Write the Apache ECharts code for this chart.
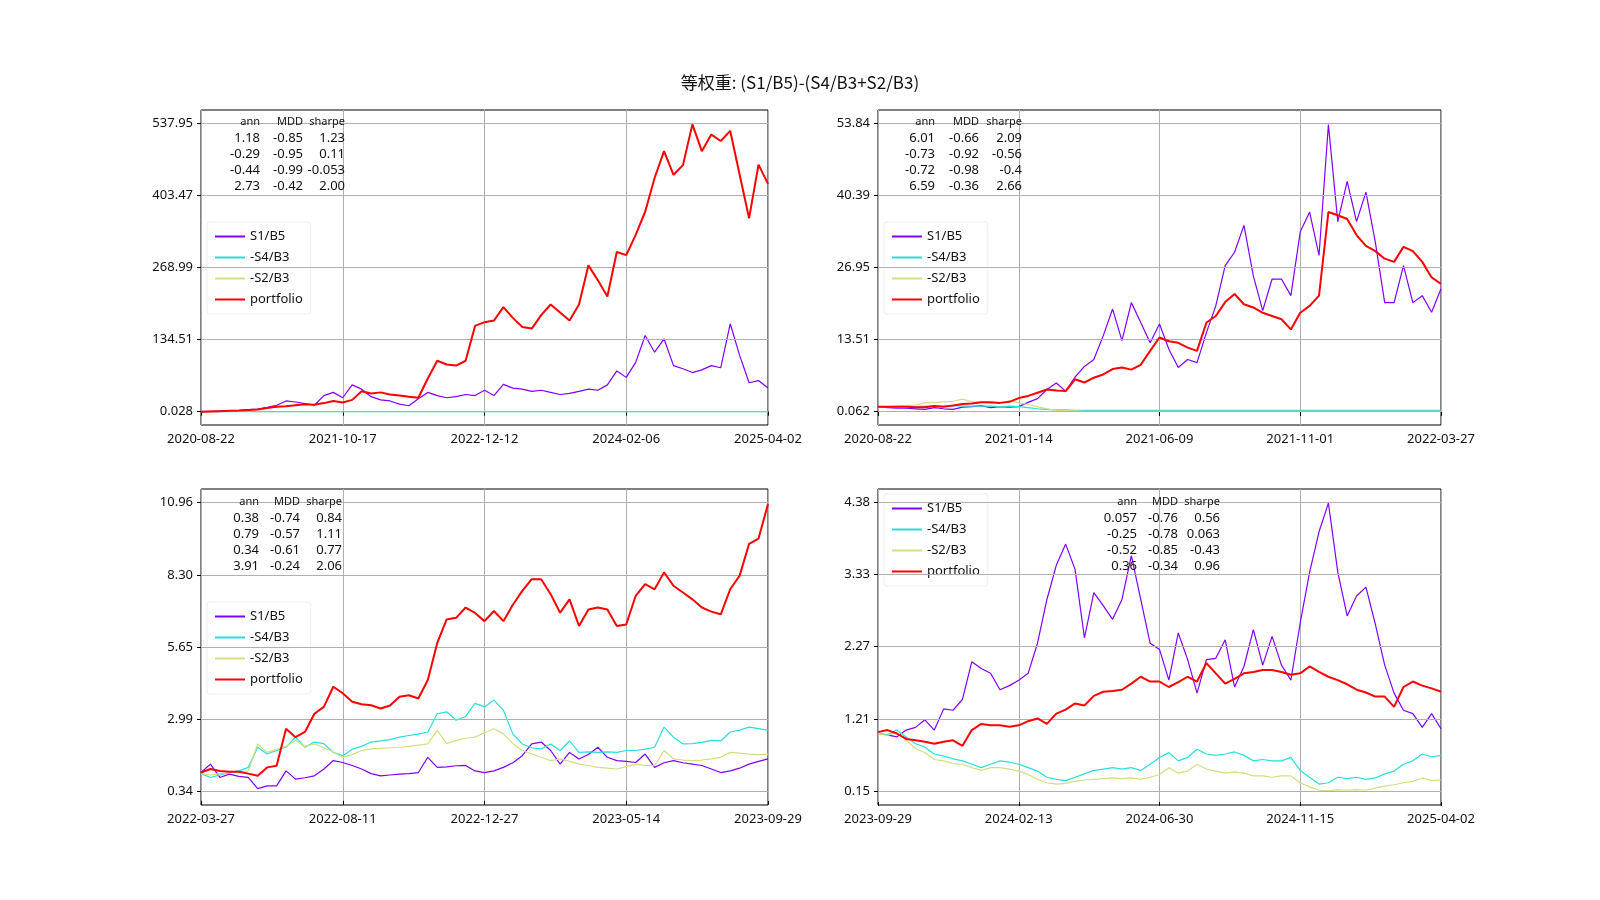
<!DOCTYPE html>
<html>
<head>
<meta charset="utf-8">
<script src="https://cdn.jsdelivr.net/npm/echarts@6/dist/echarts.min.js"></script>
<style>html,body{margin:0;padding:0;background:#fff}#main{width:1600px;height:900px}</style>
</head>
<body>
<div id="main"></div>
<script>
const seriesNames = ["S1/B5", "-S4/B3", "-S2/B3", "portfolio"];
const colors = ["#8000ff", "#2adddd", "#d4dd80", "#ff0000"];

// panel 1: full period
const p1Dates = ["2020-08-22", "2021-10-17", "2022-12-12", "2024-02-06", "2025-04-02"];
const p1Ticks = ["0.028", "134.51", "268.99", "403.47", "537.95"];
const p1S1 = [0,0.5,1,1.5,2,4,5,8,12,20,18,15,12,30,36,26,50,42,28,22,20,14,11,24,36,30,26,28,32,30,40,30,51,44,42,38,40,36,32,34,38,42,40,50,76,64,92,142,111,136,86,80,73,78,86,82,164,105,54,58,44];
const p1S4 = [0.1,0.1,0.1,0.1,0.1,0.1,0.1,0.1,0.1,0.1,0.1,0.1,0.1,0.1,0.1,0.1,0.1,0.1,0.1,0.1,0.1,0.1,0.1,0.1,0.1,0.1,0.1,0.1,0.1,0.1,0.1,0.1,0.1,0.1,0.1,0.1,0.1,0.1,0.1,0.1,0.1,0.1,0.1,0.1,0.1,0.1,0.1,0.1,0.1,0.1,0.1,0.1,0.1,0.1,0.1,0.1,0.1,0.1,0.1,0.1,0.1];
const p1S2 = [0.1,0.2,0.3,0.3,0.4,0.3,0.2,0.1,0.1,0.1,0.1,0.1,0.1,0.1,0.1,0.1,0.1,0.1,0.1,0.1,0.1,0.1,0.1,0.1,0.1,0.1,0.1,0.1,0.1,0.1,0.1,0.1,0.1,0.1,0.1,0.1,0.1,0.1,0.1,0.1,0.1,0.1,0.1,0.1,0.1,0.1,0.1,0.1,0.1,0.1,0.1,0.1,0.1,0.1,0.1,0.1,0.1,0.1,0.1,0.1,0.1];
const p1Port = [0,0.5,1,1.5,2,3,4,7,9,10,12,14,13,16,20,17,22,38,34,36,32,30,28,26,62,95,88,86,95,160,167,170,195,175,158,155,180,200,185,170,200,273,245,215,298,292,330,373,436,486,442,460,536,486,517,505,524,442,361,461,425];
const p1Stats = [["ann","MDD","sharpe"],["1.18","-0.85","1.23"],["-0.29","-0.95","0.11"],["-0.44","-0.99","-0.053"],["2.73","-0.42","2.00"]];

// panel 2
const p2Dates = ["2020-08-22", "2021-01-14", "2021-06-09", "2021-11-01", "2022-03-27"];
const p2Ticks = ["0.062", "13.51", "26.95", "40.39", "53.84"];
const p2S1 = [1.0,0.8,0.7,0.7,0.6,0.5,0.8,0.6,0.5,0.9,1.0,1.2,0.8,1.0,0.9,1.0,1.8,2.5,4.2,5.4,3.9,6.5,8.5,9.8,14.2,19.2,13.3,20.4,16.7,12.9,16.4,11.7,8.3,9.8,9.2,14.8,19.8,27.3,29.8,34.8,25.4,18.9,24.8,24.8,21.7,33.6,37.3,29.2,53.6,35.5,43,35.5,41,31.7,20.4,20.4,27.3,20.4,21.7,18.6,23];
const p2S4 = [1.0,1.0,1.0,1.1,1.0,1.1,1.1,1.1,1.2,1.1,1.1,1.1,1.1,1.0,1.1,1.0,0.8,0.6,0.5,0.4,0.4,0.3,0.3,0.3,0.3,0.3,0.3,0.3,0.3,0.3,0.3,0.3,0.3,0.3,0.3,0.3,0.3,0.3,0.3,0.3,0.3,0.3,0.3,0.3,0.3,0.3,0.3,0.3,0.3,0.3,0.3,0.3,0.3,0.3,0.3,0.3,0.3,0.3,0.3,0.3,0.3];
const p2S2 = [1.0,1.0,1.1,1.2,1.3,1.7,1.8,1.9,2.0,2.4,1.9,1.8,1.6,1.7,2.1,1.7,1.4,1.0,0.6,0.3,0.2,0.2,0.1,0.1,0.1,0.1,0.1,0.1,0.1,0.1,0.1,0.1,0.1,0.1,0.1,0.1,0.1,0.1,0.1,0.1,0.1,0.1,0.1,0.1,0.1,0.1,0.1,0.1,0.1,0.1,0.1,0.1,0.1,0.1,0.1,0.1,0.1,0.1,0.1,0.1,0.1];
const p2Port = [1.0,1.0,1.0,1.0,0.9,0.9,1.1,1.0,1.2,1.5,1.6,1.8,1.8,1.7,1.9,2.6,3.0,3.6,4.2,4.0,3.9,6.1,5.5,6.4,7.0,8.0,8.3,7.9,8.8,11.4,13.9,13.2,12.9,12.0,11.4,16.7,17.9,20.5,22.0,20.1,19.5,18.5,17.9,17.3,15.4,18.5,19.8,21.7,37.3,36.7,36.0,33,31,30,28.6,28,30.8,30,28,25.1,23.9];
const p2Stats = [["ann","MDD","sharpe"],["6.01","-0.66","2.09"],["-0.73","-0.92","-0.56"],["-0.72","-0.98","-0.4"],["6.59","-0.36","2.66"]];

// panel 3
const p3Dates = ["2022-03-27", "2022-08-11", "2022-12-27", "2023-05-14", "2023-09-29"];
const p3Ticks = ["0.34", "2.99", "5.65", "8.30", "10.96"];
const p3S1 = [1.04,1.35,0.86,0.98,0.9,0.86,0.45,0.55,0.55,1.1,0.8,0.85,0.92,1.17,1.48,1.41,1.3,1.17,1.0,0.92,0.95,0.98,1.0,1.04,1.6,1.23,1.25,1.29,1.3,1.1,1.04,1.1,1.23,1.4,1.66,2.09,2.16,1.85,1.35,1.78,1.54,1.7,1.97,1.6,1.48,1.45,1.41,1.72,1.23,1.4,1.48,1.4,1.35,1.3,1.17,1.04,1.1,1.2,1.35,1.45,1.54];
const p3S4 = [1.0,0.86,0.95,1.04,1.1,1.23,1.97,1.72,1.85,1.97,2.34,1.97,2.16,2.1,1.78,1.66,1.9,2.0,2.16,2.2,2.25,2.34,2.4,2.45,2.53,3.2,3.27,2.96,3.1,3.58,3.45,3.7,3.33,2.46,2.09,1.95,1.91,2.09,1.85,2.2,1.78,1.8,1.78,1.8,1.78,1.85,1.85,1.9,1.97,2.71,2.34,2.09,2.1,2.15,2.22,2.2,2.53,2.6,2.71,2.65,2.59];
const p3S2 = [1.0,0.95,1.0,1.04,1.05,1.1,2.09,1.78,1.9,2.0,2.22,2.0,2.09,1.95,1.8,1.6,1.7,1.85,1.91,1.93,1.95,1.97,2.0,2.05,2.09,2.59,2.1,2.22,2.3,2.34,2.5,2.65,2.46,2.1,1.85,1.72,1.6,1.48,1.54,1.45,1.35,1.3,1.23,1.2,1.17,1.26,1.35,1.3,1.29,1.85,1.54,1.5,1.48,1.5,1.54,1.6,1.78,1.75,1.72,1.7,1.72];
const p3Port = [1.04,1.17,1.1,1.07,1.07,1.0,0.92,1.23,1.29,2.65,2.34,2.53,3.2,3.45,4.19,3.95,3.64,3.55,3.51,3.39,3.5,3.82,3.88,3.76,4.44,5.8,6.66,6.72,7.1,6.9,6.6,6.97,6.6,7.2,7.71,8.14,8.14,7.59,6.91,7.4,6.42,7.03,7.1,7.03,6.42,6.48,7.53,7.96,7.77,8.39,7.9,7.65,7.4,7.1,6.95,6.85,7.77,8.27,9.44,9.63,10.9];
const p3Stats = [["ann","MDD","sharpe"],["0.38","-0.74","0.84"],["0.79","-0.57","1.11"],["0.34","-0.61","0.77"],["3.91","-0.24","2.06"]];

// panel 4
const p4Dates = ["2023-09-29", "2024-02-13", "2024-06-30", "2024-11-15", "2025-04-02"];
const p4Ticks = ["0.15", "1.21", "2.27", "3.33", "4.38"];
const p4S1 = [1.0,0.98,0.95,1.05,1.09,1.2,1.05,1.36,1.34,1.5,2.05,1.95,1.88,1.64,1.7,1.78,1.88,2.32,2.96,3.46,3.77,3.4,2.4,3.06,2.87,2.67,2.96,3.6,2.96,2.32,2.23,1.78,2.47,2.08,1.59,2.08,2.1,2.37,1.68,1.98,2.52,2.0,2.42,2.0,1.78,2.62,3.36,3.95,4.37,3.36,2.72,3.01,3.14,2.6,2.0,1.59,1.34,1.29,1.09,1.29,1.07];
const p4S4 = [1.0,0.98,1.05,0.95,0.85,0.8,0.7,0.67,0.63,0.6,0.55,0.5,0.55,0.6,0.58,0.55,0.5,0.45,0.36,0.33,0.31,0.36,0.41,0.46,0.48,0.5,0.48,0.5,0.46,0.55,0.65,0.72,0.6,0.65,0.77,0.7,0.68,0.7,0.73,0.68,0.6,0.62,0.6,0.6,0.65,0.46,0.36,0.26,0.28,0.36,0.34,0.36,0.33,0.35,0.41,0.45,0.55,0.6,0.7,0.66,0.68];
const p4S2 = [1.0,0.97,1.02,0.9,0.78,0.72,0.62,0.6,0.56,0.55,0.5,0.46,0.5,0.5,0.48,0.45,0.4,0.33,0.28,0.26,0.27,0.3,0.32,0.33,0.34,0.35,0.34,0.35,0.33,0.36,0.4,0.5,0.42,0.45,0.55,0.48,0.45,0.42,0.44,0.42,0.38,0.38,0.36,0.38,0.38,0.28,0.22,0.17,0.16,0.18,0.17,0.18,0.17,0.2,0.23,0.25,0.28,0.3,0.35,0.31,0.32];
const p4Port = [1.02,1.05,1.0,0.92,0.9,0.88,0.85,0.88,0.9,0.82,1.05,1.14,1.12,1.12,1.1,1.12,1.18,1.22,1.14,1.29,1.35,1.44,1.41,1.55,1.61,1.62,1.64,1.73,1.83,1.76,1.76,1.68,1.75,1.83,1.76,2.03,1.88,1.73,1.8,1.88,1.9,1.93,1.93,1.9,1.86,1.88,1.98,1.9,1.83,1.78,1.72,1.64,1.6,1.54,1.54,1.39,1.68,1.76,1.7,1.66,1.61];
const p4Stats = [["ann","MDD","sharpe"],["0.057","-0.76","0.56"],["-0.25","-0.78","0.063"],["-0.52","-0.85","-0.43"],["0.36","-0.34","0.96"]];

const panels = [
    { dates: p1Dates, ticks: p1Ticks, lines: [p1S1, p1S4, p1S2, p1Port], stats: p1Stats,
      grid: { left: 201, top: 110, width: 567, height: 315 }, statX: [260, 303, 345], statY: 116, legend: { left: 207, top: 222 } },
    { dates: p2Dates, ticks: p2Ticks, lines: [p2S1, p2S4, p2S2, p2Port], stats: p2Stats,
      grid: { left: 878, top: 110, width: 563, height: 315 }, statX: [935, 979, 1022], statY: 116, legend: { left: 884, top: 222 } },
    { dates: p3Dates, ticks: p3Ticks, lines: [p3S1, p3S4, p3S2, p3Port], stats: p3Stats,
      grid: { left: 201, top: 489, width: 567, height: 316 }, statX: [259, 300, 342], statY: 496, legend: { left: 207, top: 602 } },
    { dates: p4Dates, ticks: p4Ticks, lines: [p4S1, p4S4, p4S2, p4Port], stats: p4Stats,
      grid: { left: 878, top: 489, width: 563, height: 316 }, statX: [1137, 1178, 1220], statY: 496, legend: { left: 884, top: 494 } },
];

const font = "'Noto Sans', 'Noto Sans CJK SC', sans-serif";
const option = {
    animation: false,
    backgroundColor: "#fff",
    title: { text: "等权重: (S1/B5)-(S4/B3+S2/B3)", left: "center", top: 69,
        textStyle: { fontFamily: "'Noto Sans CJK SC', sans-serif", fontSize: 17, fontWeight: "normal", color: "#111" } },
    grid: [], xAxis: [], yAxis: [], series: [], legend: [], graphic: [],
};

panels.forEach((p, k) => {
    const tickVals = p.ticks.map(Number);
    const lo = tickVals[0], hi = tickVals[4];
    const pad = (hi - lo) * 13 / 281;
    option.grid.push(Object.assign({ show: true, borderColor: "#000", borderWidth: 1 }, p.grid));
    option.xAxis.push({
        gridIndex: k, type: "value", min: 0, max: 60, interval: 15,
        axisLine: { show: false },
        axisTick: { show: true, length: 4, lineStyle: { color: "#000" } },
        splitLine: { show: true, lineStyle: { color: "#b0b0b0" } },
        axisLabel: { color: "#111", fontFamily: font, fontSize: 13, margin: 8,
            formatter: v => p.dates[Math.round(v / 15)] },
    });
    option.yAxis.push({
        gridIndex: k, type: "value", min: lo - pad, max: hi + pad,
        axisLine: { show: false },
        axisTick: { show: true, length: 4, customValues: tickVals, lineStyle: { color: "#000" } },
        splitLine: { show: false },
        axisLabel: { color: "#111", fontFamily: font, fontSize: 13, customValues: tickVals,
            formatter: v => p.ticks[tickVals.indexOf(v)] ?? "" },
    });
    // horizontal grid lines at the tick values
    option.series.push({
        type: "line", xAxisIndex: k, yAxisIndex: k, data: [], z: 1, silent: true,
        markLine: { silent: true, symbol: "none", label: { show: false },
            lineStyle: { color: "#b0b0b0", type: "solid", width: 1 },
            data: tickVals.map(v => ({ yAxis: v })) },
    });
    p.lines.forEach((vals, j) => {
        option.series.push({
            name: seriesNames[j], type: "line", xAxisIndex: k, yAxisIndex: k,
            data: vals.map((v, i) => [i, v]), showSymbol: false, symbol: "none",
            z: 2 + j, lineStyle: { color: colors[j], width: j === 3 ? 2 : 1.2 },
            itemStyle: { color: colors[j] },
        });
    });
    option.legend.push({
        data: seriesNames.map((n, j) => ({ name: n, icon: "rect", itemStyle: { color: colors[j] } })),
        orient: "vertical", left: p.legend.left, top: p.legend.top,
        itemWidth: 30, itemHeight: 2, itemGap: 8, padding: [8, 8],
        backgroundColor: "rgba(255,255,255,0.8)", borderColor: "#eee", borderWidth: 1, borderRadius: 3,
        textStyle: { fontFamily: font, fontSize: 13, color: "#111" }, selectedMode: false,
    });
    p.stats.forEach((row, r) => {
        row.forEach((txt, c) => {
            option.graphic.push({
                type: "text", x: p.statX[c], y: p.statY + r * 16, z: 100,
                style: { text: txt, textAlign: "right", fill: "#111", font: (r === 0 ? "11px " : "13px ") + font },
            });
        });
    });
});

const myChart = echarts.init(document.getElementById("main"));
myChart.setOption(option);
</script>
</body>
</html>
